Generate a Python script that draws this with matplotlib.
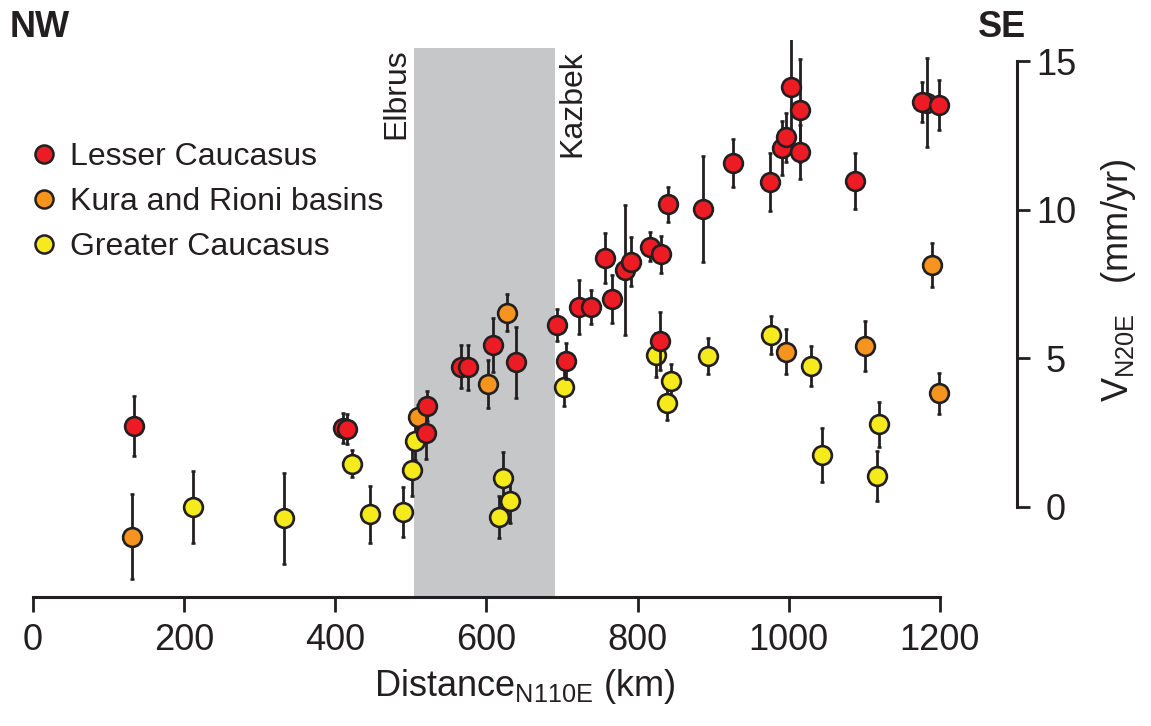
import matplotlib
matplotlib.use("Agg")
import matplotlib.pyplot as plt
from matplotlib.lines import Line2D

plt.rcParams['font.family'] = ['Liberation Sans', 'DejaVu Sans']

# Lesser Caucasus: distance (km), velocity (mm/yr), error
lesser_x = [133, 410.6, 416, 521, 519.5, 566, 575, 608, 639, 693, 705, 723, 738, 766, 757,
            783, 791, 817, 830.5, 840.6, 887, 926, 829.6, 975, 990.6, 997, 1002.5, 1015,
            1015, 1087, 1183, 1176, 1199]
lesser_v = [2.73, 2.65, 2.62, 3.4, 2.5, 4.72, 4.7, 5.45, 4.87, 6.12, 4.91, 6.72, 6.73, 7.0, 8.39,
            7.97, 8.25, 8.76, 8.5, 10.18, 10.02, 11.57, 5.59, 10.94, 12.07, 12.44, 14.14, 13.35,
            11.95, 10.97, 13.6, 13.63, 13.52]
lesser_err = [1.0, 0.5, 0.5, 0.5, 0.9, 0.72, 0.75, 0.92, 1.2, 0.55, 0.6, 0.9, 0.57, 0.82, 0.84,
              2.2, 0.82, 0.5, 0.63, 0.6, 1.78, 0.82, 0.97, 0.97, 0.9, 0.83, 1.77, 1.73,
              0.9, 0.95, 1.5, 0.67, 0.85]

# Kura and Rioni basins
kura_x = [130.5, 510, 601.6, 627, 996, 1101, 1189, 1199]
kura_v = [-1.0, 3.04, 4.13, 6.54, 5.22, 5.43, 8.14, 3.82]
kura_err = [1.43, 0.4, 0.8, 0.63, 0.75, 0.84, 0.75, 0.69]

# Greater Caucasus
greater_x = [212, 332.5, 422.5, 446, 489, 501, 505, 616, 622, 631, 702.6, 824, 844, 838.5,
             893.5, 976.5, 1030, 1044, 1117, 1119]
greater_v = [0.0, -0.38, 1.45, -0.25, -0.18, 1.24, 2.22, -0.33, 0.99, 0.21, 4.03, 5.11, 4.25, 3.51,
             5.08, 5.79, 4.75, 1.75, 1.04, 2.78]
greater_err = [1.2, 1.53, 0.45, 0.95, 0.84, 0.86, 0.65, 0.7, 0.87, 0.74, 0.63, 0.75, 0.55, 0.58,
               0.62, 0.65, 0.67, 0.92, 0.85, 0.76]

band_left = 504
band_right = 690.5
band_top = 15.43

dark = "#231f20"
red = "#ed1c24"
orange = "#f7941d"
yellow = "#f4ea1c"

fig = plt.figure(figsize=(11.51, 7.26), dpi=100)
ax = fig.add_axes([33 / 1151, 129 / 726, 984 / 1151, 557 / 726])
ax.set_xlim(0, 1302)
ax.set_ylim(-3.03, 15.71)

ax.fill_between([band_left, band_right], -3.03, band_top, color="#c6c7c9", lw=0, zorder=0)

style = dict(fmt='o', ms=13.5, mec=dark, mew=1.9, ecolor=dark, elinewidth=2,
             capsize=1.2, capthick=2)
ax.errorbar(greater_x, greater_v, yerr=greater_err, mfc=yellow, zorder=2, **style)
ax.errorbar(kura_x, kura_v, yerr=kura_err, mfc=orange, zorder=3, **style)
ax.errorbar(lesser_x, lesser_v, yerr=lesser_err, mfc=red, zorder=4, **style)

ax.text(band_left - 3, band_top, "Elbrus", rotation=90, ha='right', va='top',
        fontsize=23, color=dark)
ax.text(band_right + 3, band_top - 0.05, "Kazbek", rotation=90, ha='left', va='top',
        fontsize=23, color=dark)

# axes styling
ax.spines['top'].set_visible(False)
ax.spines['left'].set_visible(False)
ax.spines['bottom'].set_bounds(0, 1200)
ax.spines['right'].set_bounds(0, 15)
for s in ['bottom', 'right']:
    ax.spines[s].set_linewidth(2.2)
    ax.spines[s].set_color(dark)

ax.set_xticks(range(0, 1201, 200))
ax.set_yticks([0, 5, 10, 15])
ax.yaxis.tick_right()
ax.tick_params(axis='x', length=11, width=2, direction='out', pad=8, labelsize=26,
               colors=dark)
ax.tick_params(axis='y', length=9, width=2, direction='out', pad=19, labelsize=26,
               colors=dark)
for lab in ax.get_yticklabels():
    lab.set_ha('center')

ax.set_xlabel(r"Distance$_\mathregular{N110E}$ (km)", fontsize=26, color=dark, labelpad=6)
fig.text(1118 / 1151, 1 - 280 / 726, r"V$_\mathregular{N20E}$   (mm/yr)", rotation=90,
         ha='center', va='center', fontsize=26, color=dark)

fig.text(10 / 1151, 1 - 37 / 726, "NW", fontsize=26, fontweight='bold', color=dark,
         va='baseline')
fig.text(978 / 1151, 1 - 37 / 726, "SE", fontsize=26, fontweight='bold', color=dark,
         va='baseline')

handles = [Line2D([], [], marker='o', ls='', mfc=c, mec=dark, ms=13, mew=1.8)
           for c in [red, orange, yellow]]
ax.legend(handles, ["Lesser Caucasus", "Kura and Rioni basins", "Greater Caucasus"],
          loc='upper left', bbox_to_anchor=(28 / 1151, 1 - 142 / 726),
          bbox_transform=fig.transFigure, frameon=False, fontsize=23,
          borderpad=0, borderaxespad=0, handlelength=1.0, handletextpad=0.3,
          labelspacing=0.47, labelcolor=dark)

fig.savefig("out.png", dpi=100)
